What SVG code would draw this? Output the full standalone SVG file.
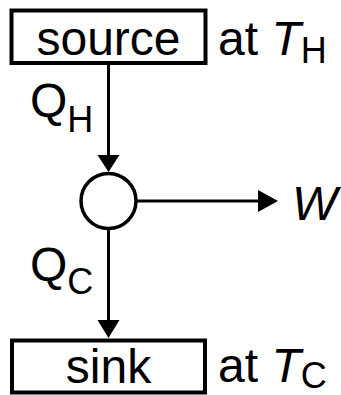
<svg xmlns="http://www.w3.org/2000/svg" width="341" height="395" viewBox="0 0 341 395">
<style>
.box{fill:#fff;stroke:#000;stroke-width:4}
.t{font-family:"Liberation Sans",Arial,sans-serif;font-size:48px;fill:#000}
.i{font-style:italic}
.sub{font-size:36px;font-style:normal}
.ln{stroke:#000;stroke-width:3;fill:none}
.ah{fill:#000;stroke:none}
</style>
<rect width="341" height="395" fill="#fff"/>
<g id="source">
<rect class="box" x="11.5" y="10.5" width="194" height="52.5"/>
<text class="t" x="108.5" y="55" text-anchor="middle">source</text>
</g>
<g id="source-label">
<text class="t" x="218" y="55">at <tspan class="i">T</tspan><tspan class="sub" dy="8">H</tspan></text>
</g>
<g id="engine">
<circle cx="108.5" cy="201" r="27.5" fill="#fff" stroke="#000" stroke-width="3.5"/>
</g>
<g id="sink">
<rect class="box" x="12" y="340.5" width="193" height="52"/>
<text class="t" x="108.5" y="383" text-anchor="middle">sink</text>
</g>
<g id="sink-label">
<text class="t" x="218" y="382">at <tspan class="i">T</tspan><tspan class="sub" dy="6">C</tspan></text>
</g>
<g id="W">
<text class="t i" x="292" y="220">W</text>
</g>
<g id="QH">
<text class="t" x="30" y="117">Q<tspan class="sub" dy="15">H</tspan></text>
</g>
<g id="QC">
<text class="t" x="30" y="281">Q<tspan class="sub" dy="13">C</tspan></text>
</g>
<g id="connectors">
<line class="ln" x1="108.5" y1="64" x2="108.5" y2="158"/>
<polygon class="ah" points="97.5,155 119.5,155 108.5,172"/>
<line class="ln" x1="136" y1="201" x2="260" y2="201"/>
<polygon class="ah" points="258,190 278,201 258,212"/>
<line class="ln" x1="108.5" y1="229" x2="108.5" y2="322"/>
<polygon class="ah" points="97.5,320 119.5,320 108.5,338"/>
</g>
</svg>
